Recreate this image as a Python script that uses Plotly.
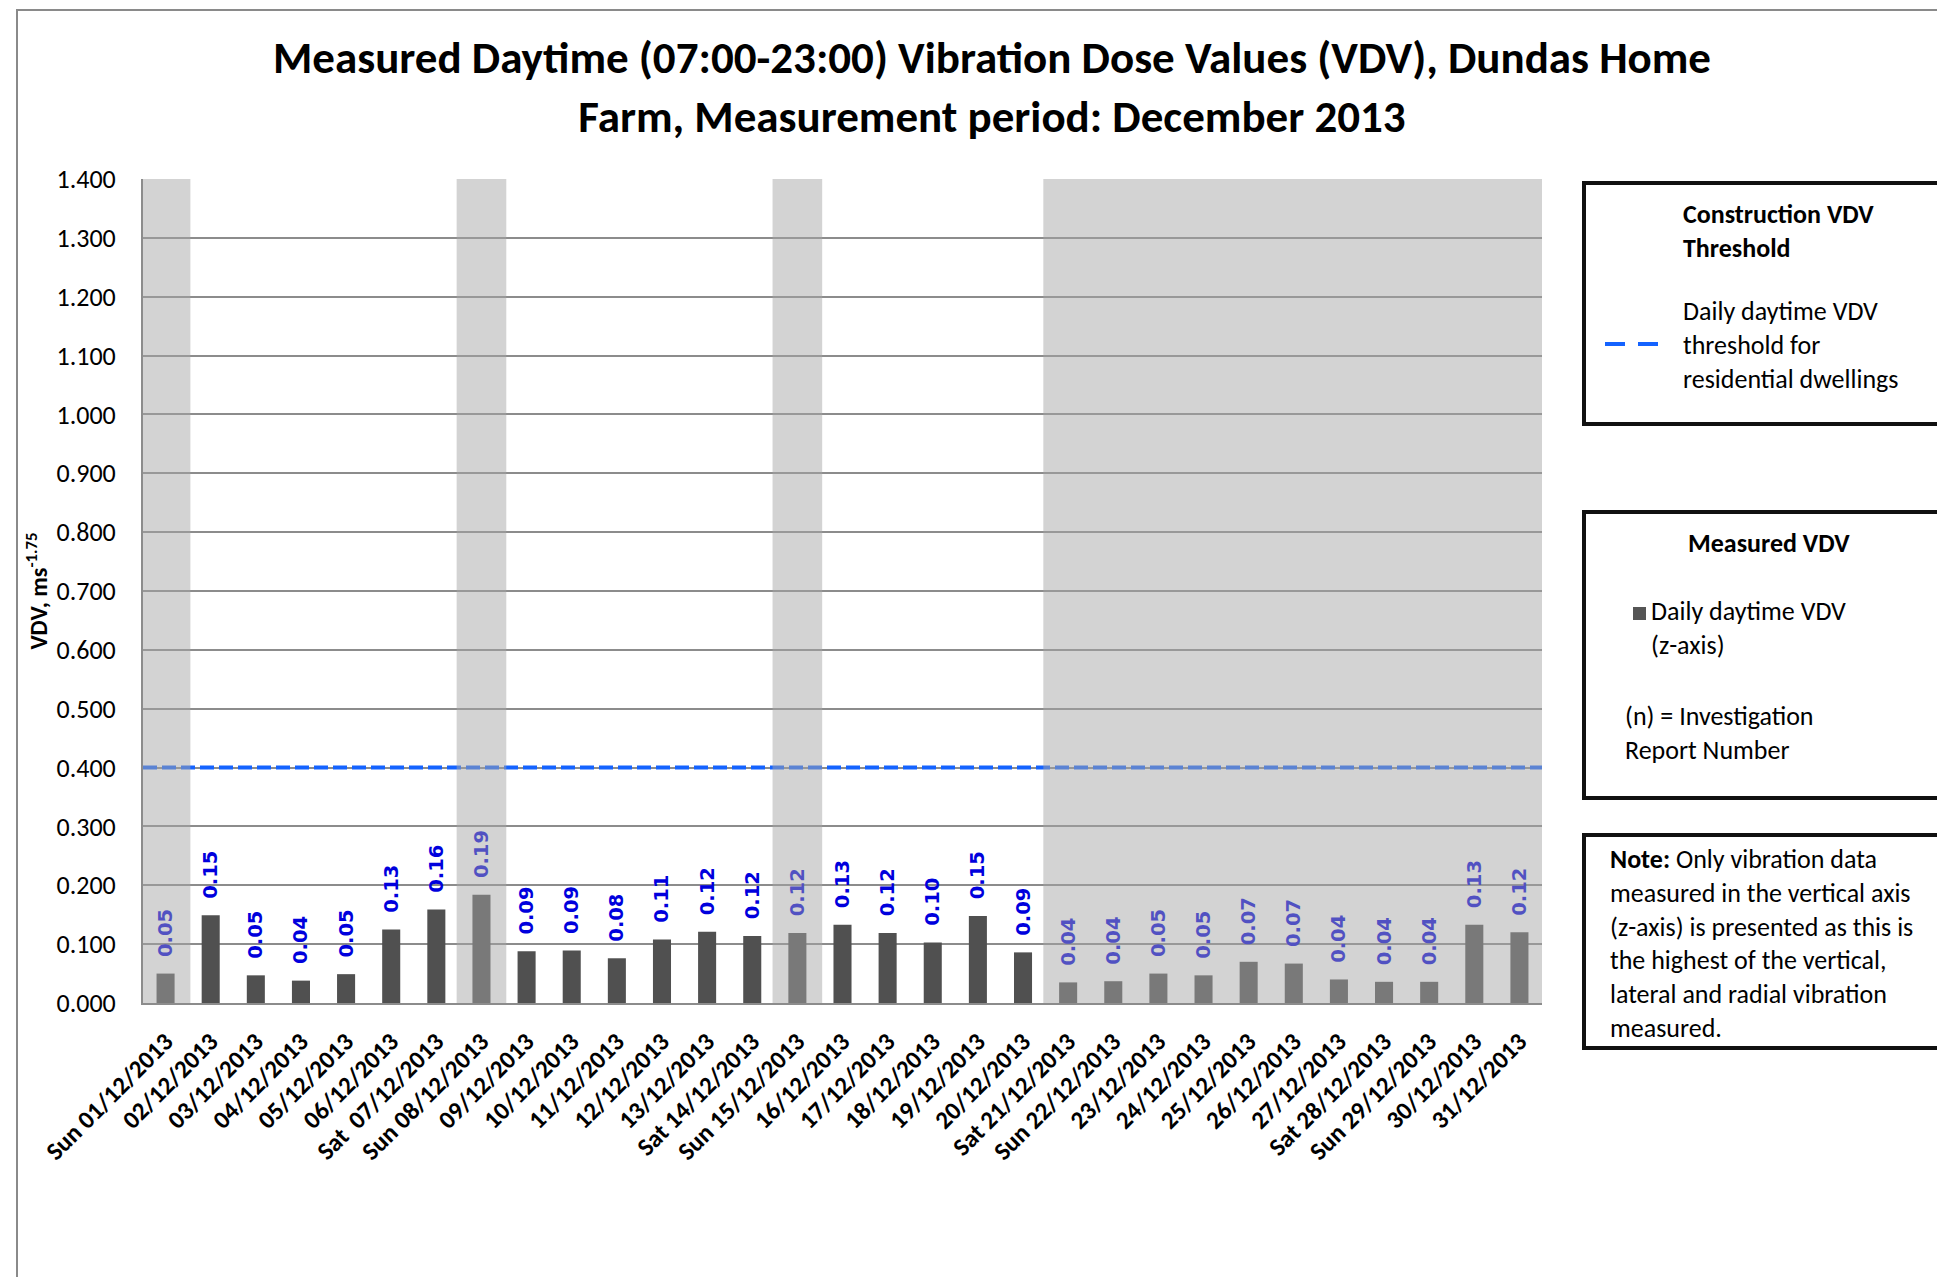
import plotly.graph_objects as go

days = ["Sun 01/12/2013", "02/12/2013", "03/12/2013", "04/12/2013", "05/12/2013",
        "06/12/2013", "Sat  07/12/2013", "Sun 08/12/2013", "09/12/2013", "10/12/2013",
        "11/12/2013", "12/12/2013", "13/12/2013", "Sat 14/12/2013", "Sun 15/12/2013",
        "16/12/2013", "17/12/2013", "18/12/2013", "19/12/2013", "20/12/2013",
        "Sat 21/12/2013", "Sun 22/12/2013", "23/12/2013", "24/12/2013", "25/12/2013",
        "26/12/2013", "27/12/2013", "Sat 28/12/2013", "Sun 29/12/2013", "30/12/2013",
        "31/12/2013"]
vdv = [0.050, 0.149, 0.047, 0.038, 0.049, 0.125, 0.159, 0.184, 0.088, 0.089,
       0.076, 0.108, 0.121, 0.114, 0.119, 0.133, 0.119, 0.103, 0.148, 0.086,
       0.035, 0.037, 0.050, 0.047, 0.070, 0.067, 0.040, 0.036, 0.036, 0.133,
       0.120]
vdv_labels = ["0.05", "0.15", "0.05", "0.04", "0.05", "0.13", "0.16", "0.19", "0.09", "0.09",
              "0.08", "0.11", "0.12", "0.12", "0.12", "0.13", "0.12", "0.10", "0.15", "0.09",
              "0.04", "0.04", "0.05", "0.05", "0.07", "0.07", "0.04", "0.04", "0.04", "0.13",
              "0.12"]
# 1 = sunday / holiday period (grey band)
shaded = [1, 0, 0, 0, 0, 0, 0, 1, 0, 0, 0, 0, 0, 0, 1, 0, 0, 0, 0, 0,
          1, 1, 1, 1, 1, 1, 1, 1, 1, 1, 1]
threshold = 0.4

# page has an 8px body margin, so the figure is a bit smaller than the window
OFF = 8
W, H = 1945 - OFF, 1277 - OFF
L, R, T, B = 143 - OFF, 403, 179 - OFF, 274
pw, ph = W - L - R, H - T - B


def px(x):
    # page pixel -> paper x
    return (x - OFF - L) / pw


def py(y):
    # page pixel -> paper y
    return (H - B - (y - OFF)) / ph


FONT = "Carlito, Calibri, Lato, sans-serif"
BLUE = "#1463ff"

fig = go.Figure()
fig.add_trace(go.Bar(
    x=days, y=vdv, width=0.4,
    marker=dict(color="#505050", line=dict(width=0)),
    text=["\u00a0\u00a0" + t for t in vdv_labels],
    textposition="outside", textangle=-90, constraintext="none", cliponaxis=False,
    textfont=dict(family="DejaVu Sans", size=19.5, color="#0000dd", weight="bold"),
    showlegend=False,
))

shapes = []
# threshold line
shapes.append(dict(type="line", xref="paper", yref="y", x0=0, x1=1, y0=threshold, y1=threshold,
                   line=dict(color=BLUE, width=4, dash="14px,5px"), layer="above"))

# grey bands, merged into runs
runs = []
for i, s in enumerate(shaded):
    if s:
        if runs and runs[-1][1] == i - 1:
            runs[-1][1] = i
        else:
            runs.append([i, i])
for a, b in runs:
    shapes.append(dict(type="rect", xref="x", yref="y",
                       x0=max(a - 0.55, -0.5), x1=min(b + 0.55, len(days) - 0.5),
                       y0=0, y1=1.4, fillcolor="#a5a5a5", opacity=0.49,
                       line=dict(width=0), layer="above"))

# outer chart border
shapes.append(dict(type="rect", xref="paper", yref="paper", x0=px(17), x1=px(1990),
                   y0=py(1300), y1=py(10), line=dict(color="#8a8a8a", width=2)))

# legend boxes
for y0, y1 in [(183, 424), (512, 798), (835, 1048)]:
    shapes.append(dict(type="rect", xref="paper", yref="paper", x0=px(1584), x1=px(1990),
                       y0=py(y1), y1=py(y0), line=dict(color="#111111", width=4)))
for x0, x1 in [(1605, 1625), (1638, 1658)]:
    shapes.append(dict(type="line", xref="paper", yref="paper", x0=px(x0), x1=px(x1),
                       y0=py(344), y1=py(344), line=dict(color=BLUE, width=4)))
shapes.append(dict(type="rect", xref="paper", yref="paper", x0=px(1633), x1=px(1646),
                   y0=py(620), y1=py(607), fillcolor="#555555", line=dict(width=0)))

annotations = [
    dict(text="<b>Measured Daytime (07:00-23:00) Vibration Dose Values (VDV), Dundas Home"
              "<br>Farm, Measurement period: December 2013</b>",
         x=px(992), y=py(87), font=dict(size=45)),
    dict(text="<b>Construction VDV<br>Threshold</b>", x=px(1681), y=py(231),
         xanchor="left", align="left"),
    dict(text="Daily daytime VDV<br>threshold for<br>residential dwellings", x=px(1681), y=py(345),
         xanchor="left", align="left"),
    dict(text="<b>Measured VDV</b>", x=px(1769), y=py(543)),
    dict(text="Daily daytime VDV<br>(z-axis)", x=px(1649), y=py(628),
         xanchor="left", align="left"),
    dict(text="(n) = Investigation<br>Report Number", x=px(1623), y=py(733),
         xanchor="left", align="left"),
    dict(text="<b>Note:</b> Only vibration data<br>measured in the vertical axis<br>"
              "(z-axis) is presented as this is<br>the highest of the vertical,<br>"
              "lateral and radial vibration<br>measured.",
         x=px(1608), y=py(943), xanchor="left", align="left"),
]
for a in annotations:
    a.update(xref="paper", yref="paper", showarrow=False)
    a.setdefault("xanchor", "center")
    a.setdefault("yanchor", "middle")
    a.setdefault("font", dict(size=26))
    a["font"].update(family=FONT, color="#000000")

fig.update_layout(
    width=W, height=H,
    margin=dict(l=L, r=R, t=T, b=B),
    paper_bgcolor="white", plot_bgcolor="white",
    font=dict(family=FONT, color="#000000"),
    shapes=shapes, annotations=annotations,
    bargap=0.6,
)
fig.update_yaxes(range=[0, 1.4], dtick=0.1, tickformat=".3f",
                 gridcolor="#8c8c8c", gridwidth=1.5, zeroline=False,
                 showline=True, linecolor="#8c8c8c", linewidth=2,
                 tickfont=dict(size=26), ticklabelstandoff=20,
                 title=dict(text="<b>VDV, ms<sup>-1.75</sup></b>", font=dict(size=24), standoff=2))
fig.update_xaxes(range=[-0.5, len(days) - 0.5], tickangle=-45,
                 showline=True, linecolor="#8c8c8c", linewidth=2,
                 tickfont=dict(size=25, weight="bold"), ticklabelstandoff=12)

fig.write_html("out.html")
